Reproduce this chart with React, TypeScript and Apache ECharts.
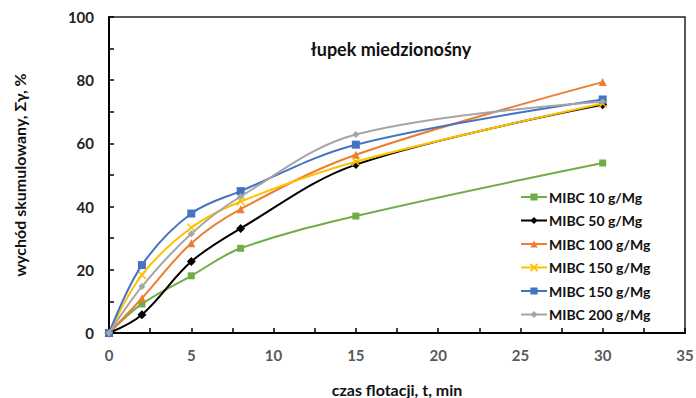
import React, { useEffect, useRef } from "react";
import * as echarts from "echarts";

const times = [0, 2, 5, 8, 15, 30];
const seriesNames = [
  "MIBC 10 g/Mg",
  "MIBC 50 g/Mg",
  "MIBC 100 g/Mg",
  "MIBC 150 g/Mg",
  "MIBC 150 g/Mg ",
  "MIBC 200 g/Mg",
];
const mibc10 = [0, 9.2, 18.1, 26.8, 37.0, 53.8];
const mibc50 = [0, 5.8, 22.6, 33.1, 53.3, 72.2];
const mibc100 = [0, 11.0, 28.4, 39.2, 56.4, 79.4];
const mibc150a = [0, 18.4, 33.3, 41.6, 54.2, 72.6];
const mibc150b = [0, 21.5, 37.8, 44.9, 59.6, 73.9];
const mibc200 = [0, 14.7, 31.4, 43.2, 62.8, 73.2];
const yTicks = [0, 20, 40, 60, 80, 100];
const xTicks = [0, 5, 10, 15, 20, 25, 30, 35];

const colors = ["#70AD47", "#000000", "#ED7D31", "#FFC000", "#4472C4", "#A5A5A5"];
const symbols = [
  "rect",
  "diamond",
  "triangle",
  "path://M0,0L10,10M10,0L0,10",
  "rect",
  "diamond",
];
const symbolSizes = [7, 9, 8, 8, 8, 7];
const allData = [mibc10, mibc50, mibc100, mibc150a, mibc150b, mibc200];

const FONT = "Lato, 'Open Sans', sans-serif";

export default function App() {
  const ref = useRef<HTMLDivElement>(null);
  useEffect(() => {
    if (!ref.current) return;
    const chart = echarts.init(ref.current, undefined, { renderer: "svg" });
    chart.setOption({
      animation: false,
      backgroundColor: "#ffffff",
      textStyle: { fontFamily: FONT },
      title: {
        text: "łupek miedzionośny",
        left: 386,
        top: 35,
        textAlign: "center",
        textStyle: { fontFamily: FONT, fontWeight: "bold", fontSize: 18, color: "#111" },
      },
      grid: {
        left: 109,
        right: 11,
        top: 17,
        bottom: 65,
        show: true,
        borderColor: "#222",
        borderWidth: 1.5,
        containLabel: false,
        outerBoundsMode: "none",
      },
      legend: {
        orient: "vertical",
        left: 515,
        top: 185,
        itemWidth: 26,
        itemHeight: 9,
        itemGap: 9.5,
        data: seriesNames,
        textStyle: { fontFamily: FONT, fontWeight: "bold", fontSize: 14, color: "#111", padding: [0, 0, 0, -3] },
      },
      xAxis: {
        type: "value",
        min: 0,
        max: 35,
        interval: 5,
        name: "czas flotacji, t, min",
        nameLocation: "middle",
        nameGap: 48,
        nameTextStyle: { fontFamily: FONT, fontWeight: "bold", fontSize: 16, color: "#111" },
        axisLine: { show: true, lineStyle: { color: "#000", width: 2 } },
        axisTick: { show: true, inside: true, length: 5, lineStyle: { color: "#000", width: 1.5 } },
        minorTick: { show: true, splitNumber: 2, length: 5, lineStyle: { color: "#000", width: 1.5 } },
        splitLine: { show: false },
        axisLabel: {
          margin: 14,
          fontFamily: FONT,
          fontWeight: "bold",
          fontSize: 15,
          color: "#595959",
          formatter: (v: number) => (xTicks.includes(v) ? String(v) : ""),
        },
      },
      yAxis: {
        type: "value",
        min: 0,
        max: 100,
        interval: 20,
        name: "wychód skumulowany, Σγ, %",
        nameLocation: "middle",
        nameGap: 82,
        nameTextStyle: { fontFamily: FONT, fontWeight: "bold", fontSize: 16, color: "#111" },
        axisLine: { show: true, lineStyle: { color: "#000", width: 2 } },
        axisTick: { show: true, inside: true, length: 5, lineStyle: { color: "#000", width: 1.5 } },
        minorTick: { show: true, splitNumber: 2, length: 5, lineStyle: { color: "#000", width: 1.5 } },
        splitLine: { show: false },
        axisLabel: {
          margin: 15,
          fontFamily: FONT,
          fontWeight: "bold",
          fontSize: 15,
          color: "#222",
          formatter: (v: number) => (yTicks.includes(v) ? String(v) : ""),
        },
      },
      series: allData.map((d, i) => ({
        name: seriesNames[i],
        type: "line",
        smooth: 0.35,
        data: times.map((t, j) => [t, d[j]]),
        symbol: symbols[i],
        symbolSize: symbolSizes[i],
        lineStyle: { color: colors[i], width: 2 },
        itemStyle:
          i === 3
            ? { color: colors[i], borderColor: colors[i], borderWidth: 1.5 }
            : { color: colors[i] },
        z: 2 + i,
      })),
    });
    return () => chart.dispose();
  }, []);
  return (
    <div
      ref={ref}
      style={{ position: "fixed", left: 0, top: 0, width: 696, height: 398 }}
    />
  );
}
